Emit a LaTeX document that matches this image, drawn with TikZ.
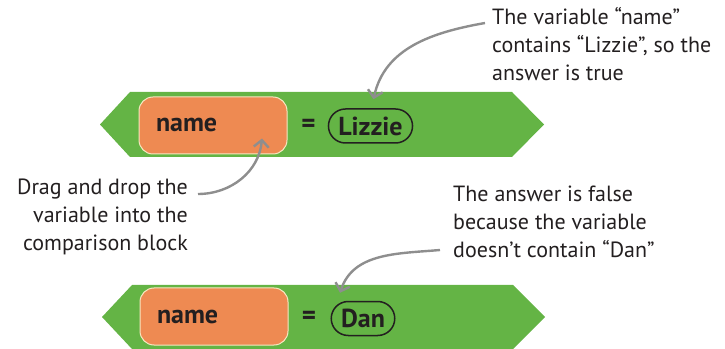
\documentclass[tikz,border=0pt]{standalone}
\usepackage{fontspec}
\setmainfont{PT Sans}
\usepackage{xcolor}
\usepackage{tikz}
\usetikzlibrary{arrows.meta,positioning,shapes.misc,calc}
\definecolor{blockgreen}{HTML}{64B445}
\definecolor{varorange}{HTML}{EE8A52}
\definecolor{varedge}{HTML}{F6E7C1}
\definecolor{notegray}{HTML}{8E8E8E}
\definecolor{inkblack}{HTML}{231F20}

\tikzset{
  varbox/.style={fill=varorange,draw=varedge,line width=1pt,rounded corners=14pt,
    minimum width=148pt,minimum height=57pt,inner xsep=17pt,text width=114pt,align=left,
    font=\fontsize{26}{26}\selectfont\bfseries,text=inkblack},
  valpill/.style={rounded rectangle,draw=inkblack,line width=1.5pt,minimum height=34pt,
    inner xsep=7pt,font=\fontsize{26}{26}\selectfont\bfseries,text=inkblack},
  eqsign/.style={font=\fontsize{27}{27}\selectfont\bfseries,text=inkblack},
  note/.style={font=\fontsize{22}{28}\selectfont,text=inkblack,inner sep=0pt},
  pointer/.style={draw=notegray,line width=2.4pt,-{Straight Barb[length=7pt,width=15pt]}}
}

\begin{document}
\begin{tikzpicture}[x=1pt,y=1pt]
  \useasboundingbox (0,0) rectangle (725,348);

  % Top comparison block
  \fill[blockgreen] (100,223.5) -- (130,256) -- (512,256) -- (544,223.5) -- (512,191) -- (130,191) -- cycle;
  \node[varbox] (var1) at (213,222.5) {name};
  \node[eqsign] (eq1) at (308.5,222) {=};
  \node[valpill] (lizzie) at (370.5,222) {Lizzie};

  % Bottom comparison block
  \fill[blockgreen] (102,31) -- (132,63) -- (513,63) -- (545,31) -- (513,-1) -- (132,-1) -- cycle;
  \node[varbox] (var2) at (214,31.5) {name};
  \node[eqsign] (eq2) at (309,30) {=};
  \node[valpill] (dan) at (363,29.5) {Dan};

  % Notes
  \node[note,anchor=north west,align=left] (trueNote) at (492,341)
    {The variable “name”\\contains “Lizzie”, so the\\answer is true};
  \node[note,anchor=north east,align=right] (dragNote) at (188,169)
    {Drag and drop the\\variable into the\\comparison block};
  \node[note,anchor=north west,align=left] (falseNote) at (453,162)
    {The answer is false\\because the variable\\doesn’t contain “Dan”};

  % Pointers
  \draw[pointer] ($(trueNote.north west)+(-7,-16)$) to[out=190,in=78] ($(lizzie.north)+(3,9)$);
  \draw[pointer] ($(dragNote.north east)+(10,-15)$) to[out=0,in=265] ($(var1.south)+(49,16)$);
  \draw[pointer] ($(falseNote.north west)+(-13,-64)$) to[out=185,in=72] ($(dan.north)+(-23,8)$);
\end{tikzpicture}
\end{document}
